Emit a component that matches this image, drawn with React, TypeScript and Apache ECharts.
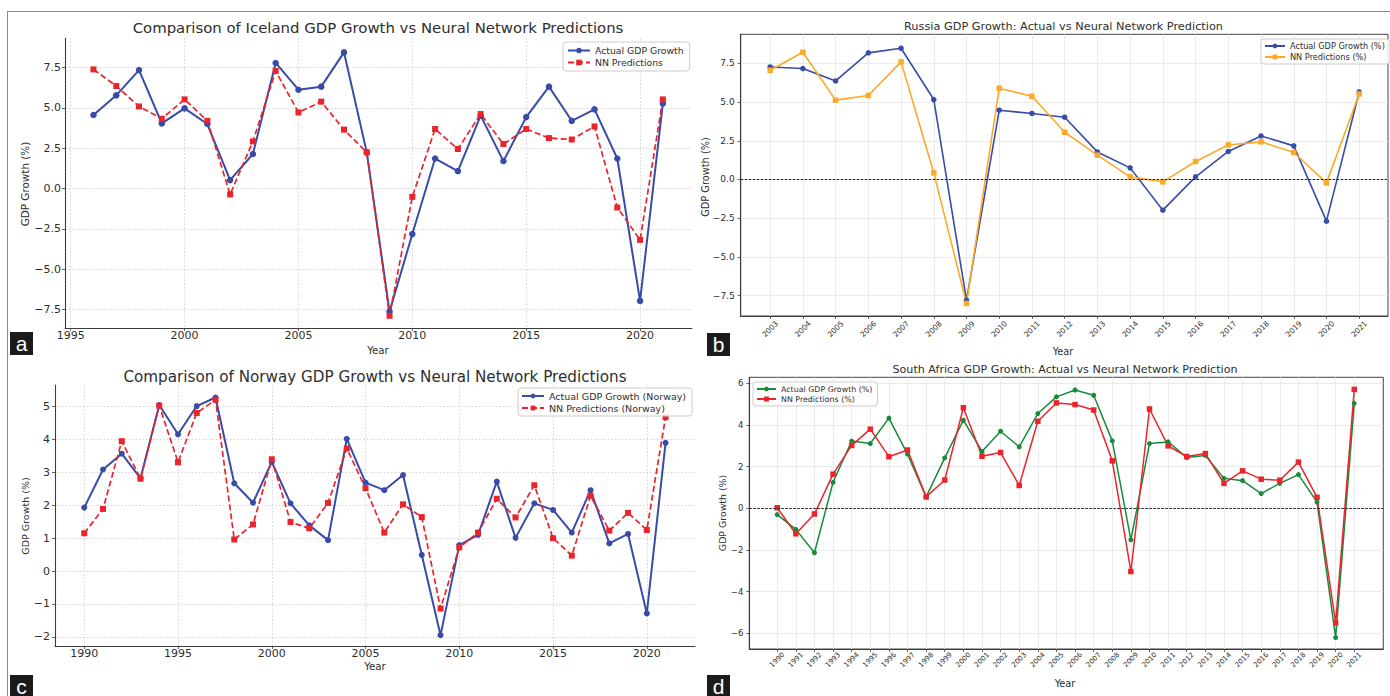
import React, { useEffect, useRef } from "react";
import * as echarts from "echarts";

// ---------------- Data ----------------
const icelandYears = [1996, 1997, 1998, 1999, 2000, 2001, 2002, 2003, 2004, 2005, 2006, 2007, 2008, 2009, 2010, 2011, 2012, 2013, 2014, 2015, 2016, 2017, 2018, 2019, 2020, 2021];
const icelandActual = [4.56, 5.78, 7.35, 4.04, 4.97, 4.0, 0.52, 2.14, 7.79, 6.13, 6.32, 8.45, 2.24, -7.64, -2.83, 1.86, 1.08, 4.52, 1.7, 4.43, 6.32, 4.2, 4.91, 1.86, -6.98, 5.28];
const icelandNN = [7.39, 6.36, 5.09, 4.33, 5.53, 4.2, -0.37, 2.92, 7.29, 4.72, 5.39, 3.65, 2.24, -7.9, -0.52, 3.69, 2.45, 4.62, 2.76, 3.69, 3.13, 3.04, 3.85, -1.18, -3.19, 5.53];
const icelandXTicks = [1995, 2000, 2005, 2010, 2015, 2020];
const icelandYTicks = [-7.5, -5, -2.5, 0, 2.5, 5, 7.5];

const russiaYears = [2003, 2004, 2005, 2006, 2007, 2008, 2009, 2010, 2011, 2012, 2013, 2014, 2015, 2016, 2017, 2018, 2019, 2020, 2021];
const russiaActual = [7.26, 7.16, 6.36, 8.17, 8.47, 5.16, -7.79, 4.47, 4.26, 4.02, 1.78, 0.75, -1.98, 0.17, 1.81, 2.81, 2.17, -2.69, 5.65];
const russiaNN = [7.05, 8.21, 5.12, 5.42, 7.59, 0.43, -8.0, 5.89, 5.37, 3.05, 1.57, 0.17, -0.15, 1.16, 2.23, 2.43, 1.74, -0.22, 5.52];
const russiaXTicks = [2003, 2004, 2005, 2006, 2007, 2008, 2009, 2010, 2011, 2012, 2013, 2014, 2015, 2016, 2017, 2018, 2019, 2020, 2021];
const russiaYTicks = [-7.5, -5, -2.5, 0, 2.5, 5, 7.5];

const norwayYears = [1990, 1991, 1992, 1993, 1994, 1995, 1996, 1997, 1998, 1999, 2000, 2001, 2002, 2003, 2004, 2005, 2006, 2007, 2008, 2009, 2010, 2011, 2012, 2013, 2014, 2015, 2016, 2017, 2018, 2019, 2020, 2021];
const norwayActual = [1.93, 3.09, 3.57, 2.82, 5.05, 4.16, 5.02, 5.28, 2.67, 2.08, 3.32, 2.06, 1.39, 0.94, 4.02, 2.69, 2.46, 2.92, 0.49, -1.95, 0.79, 1.1, 2.72, 1.01, 2.06, 1.86, 1.17, 2.46, 0.84, 1.13, -1.29, 3.9];
const norwayNN = [1.15, 1.89, 3.95, 2.81, 5.03, 3.31, 4.81, 5.21, 0.96, 1.42, 3.4, 1.49, 1.3, 2.07, 3.73, 2.52, 1.17, 2.03, 1.64, -1.14, 0.72, 1.17, 2.2, 1.63, 2.61, 1.0, 0.47, 2.29, 1.23, 1.77, 1.25, 4.68];
const norwayXTicks = [1990, 1995, 2000, 2005, 2010, 2015, 2020];
const norwayYTicks = [-2, -1, 0, 1, 2, 3, 4, 5];

const saYears = [1990, 1991, 1992, 1993, 1994, 1995, 1996, 1997, 1998, 1999, 2000, 2001, 2002, 2003, 2004, 2005, 2006, 2007, 2008, 2009, 2010, 2011, 2012, 2013, 2014, 2015, 2016, 2017, 2018, 2019, 2020, 2021];
const saActual = [-0.3, -1.01, -2.13, 1.25, 3.23, 3.11, 4.33, 2.6, 0.55, 2.42, 4.23, 2.73, 3.7, 2.95, 4.55, 5.35, 5.68, 5.43, 3.24, -1.51, 3.11, 3.19, 2.44, 2.54, 1.44, 1.33, 0.71, 1.2, 1.62, 0.3, -6.2, 5.04];
const saNN = [0.03, -1.22, -0.27, 1.64, 3.02, 3.8, 2.48, 2.8, 0.55, 1.36, 4.83, 2.5, 2.68, 1.1, 4.18, 5.06, 4.98, 4.72, 2.28, -3.03, 4.77, 3.0, 2.49, 2.63, 1.2, 1.8, 1.4, 1.35, 2.22, 0.53, -5.5, 5.71];
const saXTicks = [1990, 1991, 1992, 1993, 1994, 1995, 1996, 1997, 1998, 1999, 2000, 2001, 2002, 2003, 2004, 2005, 2006, 2007, 2008, 2009, 2010, 2011, 2012, 2013, 2014, 2015, 2016, 2017, 2018, 2019, 2020, 2021];
const saYTicks = [-6, -4, -2, 0, 2, 4, 6];

// ---------------- Styling ----------------
const FONT = "DejaVu Sans";
const BLUE = "#384ba6";
const RED = "#ea242a";
const ORANGE = "#fca928";
const GREEN = "#178a3c";
const TXT = "#2e2e2e";

function minusFmt(v: number, dec: number) {
  const s = Math.abs(v).toFixed(dec);
  return v < -1e-9 ? "\u2212" + s : s;
}

function pairs(xs: number[], ys: number[]) {
  return xs.map((x, i) => [x, ys[i]]);
}

function txt(x: number, y: number, t: string, size: number, rotation = 0, color = TXT) {
  return {
    type: "text",
    x,
    y,
    rotation,
    silent: true,
    style: {
      text: t,
      fill: color,
      fontSize: size,
      fontFamily: FONT,
      align: "center",
      verticalAlign: "middle",
      textAlign: "center",
      textVerticalAlign: "middle",
    },
  };
}

function tag(x: number, y: number, letter: string) {
  return [
    { type: "rect", silent: true, shape: { x, y, width: 23, height: 23 }, style: { fill: "#1b1b1b" } },
    {
      type: "text",
      x: x + 11.5,
      y: y + 11,
      silent: true,
      style: {
        text: letter,
        fill: "#ffffff",
        fontSize: 21,
        fontFamily: "Liberation Sans",
        align: "center",
        verticalAlign: "middle",
        textAlign: "center",
        textVerticalAlign: "middle",
      },
    },
  ];
}

const mplGrid = { show: true, lineStyle: { color: "#cfcfcf", type: [1.5, 2], width: 0.9 } };
const boxGrid = { show: true, lineStyle: { color: "#e6e6e6", type: "solid", width: 0.8 } };

function axis(
  dir: "x" | "y",
  min: number,
  max: number,
  step: number,
  ticks: number[],
  o: { fontSize: number; dec: number; margin: number; split: any; rotate?: number; color?: string }
) {
  const label: any = {
    customValues: ticks,
    fontSize: o.fontSize,
    fontFamily: FONT,
    color: TXT,
    margin: o.margin,
    formatter: (v: number) => (o.dec === -1 ? String(Math.round(v)) : minusFmt(v, o.dec)),
  };
  if (o.rotate) {
    label.rotate = o.rotate;
    label.align = "center";
    label.verticalAlign = "middle";
  }
  return {
    type: "value",
    min,
    max,
    minInterval: step,
    maxInterval: step,
    axisLine: { show: true, onZero: false, lineStyle: { color: o.color || "#3c3c3c", width: 1.1 } },
    axisTick: { show: true, customValues: ticks, length: 3, lineStyle: { color: "#3c3c3c", width: 0.8 } },
    axisLabel: label,
    splitLine: o.split,
  };
}

function legend(left: number, top: number, names: string[], fontSize: number, itemWidth: number, itemHeight: number, gap: number, pad: number[]) {
  return {
    left,
    top,
    orient: "vertical",
    itemWidth,
    itemHeight,
    itemGap: gap,
    padding: pad,
    backgroundColor: "rgba(255,255,255,0.85)",
    borderColor: "#cccccc",
    borderWidth: 1,
    borderRadius: 3,
    textStyle: { fontSize, fontFamily: FONT, color: TXT },
    data: names,
  };
}

// ---------------- Options ----------------
const optA: any = {
  animation: false,
  textStyle: { fontFamily: FONT },
  grid: { left: 65, top: 38, width: 627, height: 290 },
  xAxis: axis("x", 1994.75, 2022.28, 5, icelandXTicks, { fontSize: 11, dec: -1, margin: 2, split: mplGrid }),
  yAxis: axis("y", -8.66, 9.34, 2.5, icelandYTicks, { fontSize: 11, dec: 1, margin: 4, split: mplGrid }),
  legend: legend(563, 42, ["Actual GDP Growth", "NN Predictions"], 9.3, 22, 7, 3, [4, 6, 4, 4]),
  series: [
    {
      type: "line",
      name: "Actual GDP Growth",
      data: pairs(icelandYears, icelandActual),
      symbol: "circle",
      symbolSize: 6.5,
      itemStyle: { color: BLUE },
      lineStyle: { color: BLUE, width: 2 },
    },
    {
      type: "line",
      name: "NN Predictions",
      data: pairs(icelandYears, icelandNN),
      symbol: "rect",
      symbolSize: 6,
      itemStyle: { color: RED },
      lineStyle: { color: RED, width: 1.7, type: [6, 3] },
    },
  ],
  graphic: [
    txt(378, 28, "Comparison of Iceland GDP Growth vs Neural Network Predictions", 14.9),
    txt(25, 184, "GDP Growth (%)", 10.4, Math.PI / 2),
    txt(378, 350, "Year", 10.2),
    ...tag(10, 332, "a"),
  ],
};

const optB: any = {
  animation: false,
  textStyle: { fontFamily: FONT },
  grid: { left: 40.7, top: 34.3, width: 647.3, height: 281.7, show: true, borderColor: "#444", borderWidth: 1 },
  xAxis: axis("x", 2002.1, 2021.88, 1, russiaXTicks, { fontSize: 7.5, dec: -1, margin: 13, split: boxGrid, rotate: 45 }),
  yAxis: axis("y", -8.81, 9.37, 2.5, russiaYTicks, { fontSize: 9, dec: 1, margin: 6, split: boxGrid }),
  legend: legend(561, 39, ["Actual GDP Growth (%)", "NN Predictions (%)"], 8.2, 20, 6, 3, [3, 5, 3, 3]),
  series: [
    {
      type: "line",
      name: "Actual GDP Growth (%)",
      data: pairs(russiaYears, russiaActual),
      symbol: "circle",
      symbolSize: 5.5,
      itemStyle: { color: BLUE },
      lineStyle: { color: BLUE, width: 1.6 },
      markLine: {
        silent: true,
        symbol: "none",
        label: { show: false },
        lineStyle: { color: "#222", type: [2.5, 1.5], width: 1 },
        data: [{ yAxis: 0 }],
      },
    },
    {
      type: "line",
      name: "NN Predictions (%)",
      data: pairs(russiaYears, russiaNN),
      symbol: "rect",
      symbolSize: 5.5,
      itemStyle: { color: ORANGE },
      lineStyle: { color: ORANGE, width: 1.6 },
    },
  ],
  graphic: [
    txt(363.5, 26, "Russia GDP Growth: Actual vs Neural Network Prediction", 11.3),
    txt(5, 177, "GDP Growth (%)", 9.8, Math.PI / 2),
    txt(363, 351, "Year", 9.8),
    ...tag(7, 333, "b"),
  ],
};

const optC: any = {
  animation: false,
  textStyle: { fontFamily: FONT },
  grid: { left: 55, top: 27, width: 640, height: 261 },
  xAxis: axis("x", 1988.44, 2022.57, 5, norwayXTicks, { fontSize: 11, dec: -1, margin: 2, split: mplGrid }),
  yAxis: axis("y", -2.28, 5.66, 1, norwayYTicks, { fontSize: 11, dec: 0, margin: 5, split: mplGrid }),
  legend: legend(518, 30, ["Actual GDP Growth (Norway)", "NN Predictions (Norway)"], 9.5, 22, 6, 2, [3, 6, 3, 3]),
  series: [
    {
      type: "line",
      name: "Actual GDP Growth (Norway)",
      data: pairs(norwayYears, norwayActual),
      symbol: "circle",
      symbolSize: 6,
      itemStyle: { color: BLUE },
      lineStyle: { color: BLUE, width: 2 },
    },
    {
      type: "line",
      name: "NN Predictions (Norway)",
      data: pairs(norwayYears, norwayNN),
      symbol: "rect",
      symbolSize: 6,
      itemStyle: { color: RED },
      lineStyle: { color: RED, width: 1.7, type: [6, 3] },
    },
  ],
  graphic: [
    txt(375, 18.7, "Comparison of Norway GDP Growth vs Neural Network Predictions", 15.2),
    txt(25, 158, "GDP Growth (%)", 9.5, Math.PI / 2),
    txt(375, 308, "Year", 10.2),
    ...tag(10, 317, "c"),
  ],
};

const optD: any = {
  animation: false,
  textStyle: { fontFamily: FONT },
  grid: { left: 49.3, top: 19.3, width: 634, height: 271.7, show: true, borderColor: "#444", borderWidth: 1 },
  xAxis: axis("x", 1988.5, 2022.56, 1, saXTicks, { fontSize: 7, dec: -1, margin: 11, split: boxGrid, rotate: 45 }),
  yAxis: axis("y", -6.75, 6.29, 2, saYTicks, { fontSize: 8.5, dec: 0, margin: 6, split: boxGrid }),
  legend: legend(53, 24, ["Actual GDP Growth (%)", "NN Predictions (%)"], 7.9, 19, 6, 2, [3, 5, 3, 3]),
  series: [
    {
      type: "line",
      name: "Actual GDP Growth (%)",
      data: pairs(saYears, saActual),
      symbol: "circle",
      symbolSize: 5,
      itemStyle: { color: GREEN },
      lineStyle: { color: GREEN, width: 1.5 },
      markLine: {
        silent: true,
        symbol: "none",
        label: { show: false },
        lineStyle: { color: "#222", type: [2.5, 1.5], width: 1 },
        data: [{ yAxis: 0 }],
      },
    },
    {
      type: "line",
      name: "NN Predictions (%)",
      data: pairs(saYears, saNN),
      symbol: "rect",
      symbolSize: 5.5,
      itemStyle: { color: RED },
      lineStyle: { color: RED, width: 1.5 },
    },
  ],
  graphic: [
    txt(365, 11, "South Africa GDP Growth: Actual vs Neural Network Prediction", 11.1),
    txt(22, 155, "GDP Growth (%)", 9.4, Math.PI / 2),
    txt(365, 325, "Year", 9.8),
    ...tag(7, 317, "d"),
  ],
};

// ---------------- Components ----------------
function Panel({ left, top, width, height, option }: { left: number; top: number; width: number; height: number; option: any }) {
  const ref = useRef<HTMLDivElement>(null);
  useEffect(() => {
    if (!ref.current) return;
    const chart = echarts.init(ref.current, null, { renderer: "svg" });
    chart.setOption(option);
    return () => chart.dispose();
  }, [option]);
  return <div ref={ref} style={{ position: "absolute", left, top, width, height }} />;
}

export default function App() {
  return (
    <div style={{ position: "absolute", left: 0, top: 0, width: 1390, height: 696, overflow: "hidden", background: "#ffffff" }}>
      <div
        style={{
          position: "absolute",
          left: 7,
          top: 11,
          width: 1400,
          height: 700,
          borderLeft: "1.5px solid #8c8c8c",
          borderTop: "1.5px solid #8c8c8c",
        }}
      />
      <Panel left={0} top={0} width={700} height={358} option={optA} />
      <Panel left={700} top={0} width={690} height={358} option={optB} />
      <Panel left={0} top={358} width={700} height={338} option={optC} />
      <Panel left={700} top={358} width={690} height={338} option={optD} />
    </div>
  );
}
